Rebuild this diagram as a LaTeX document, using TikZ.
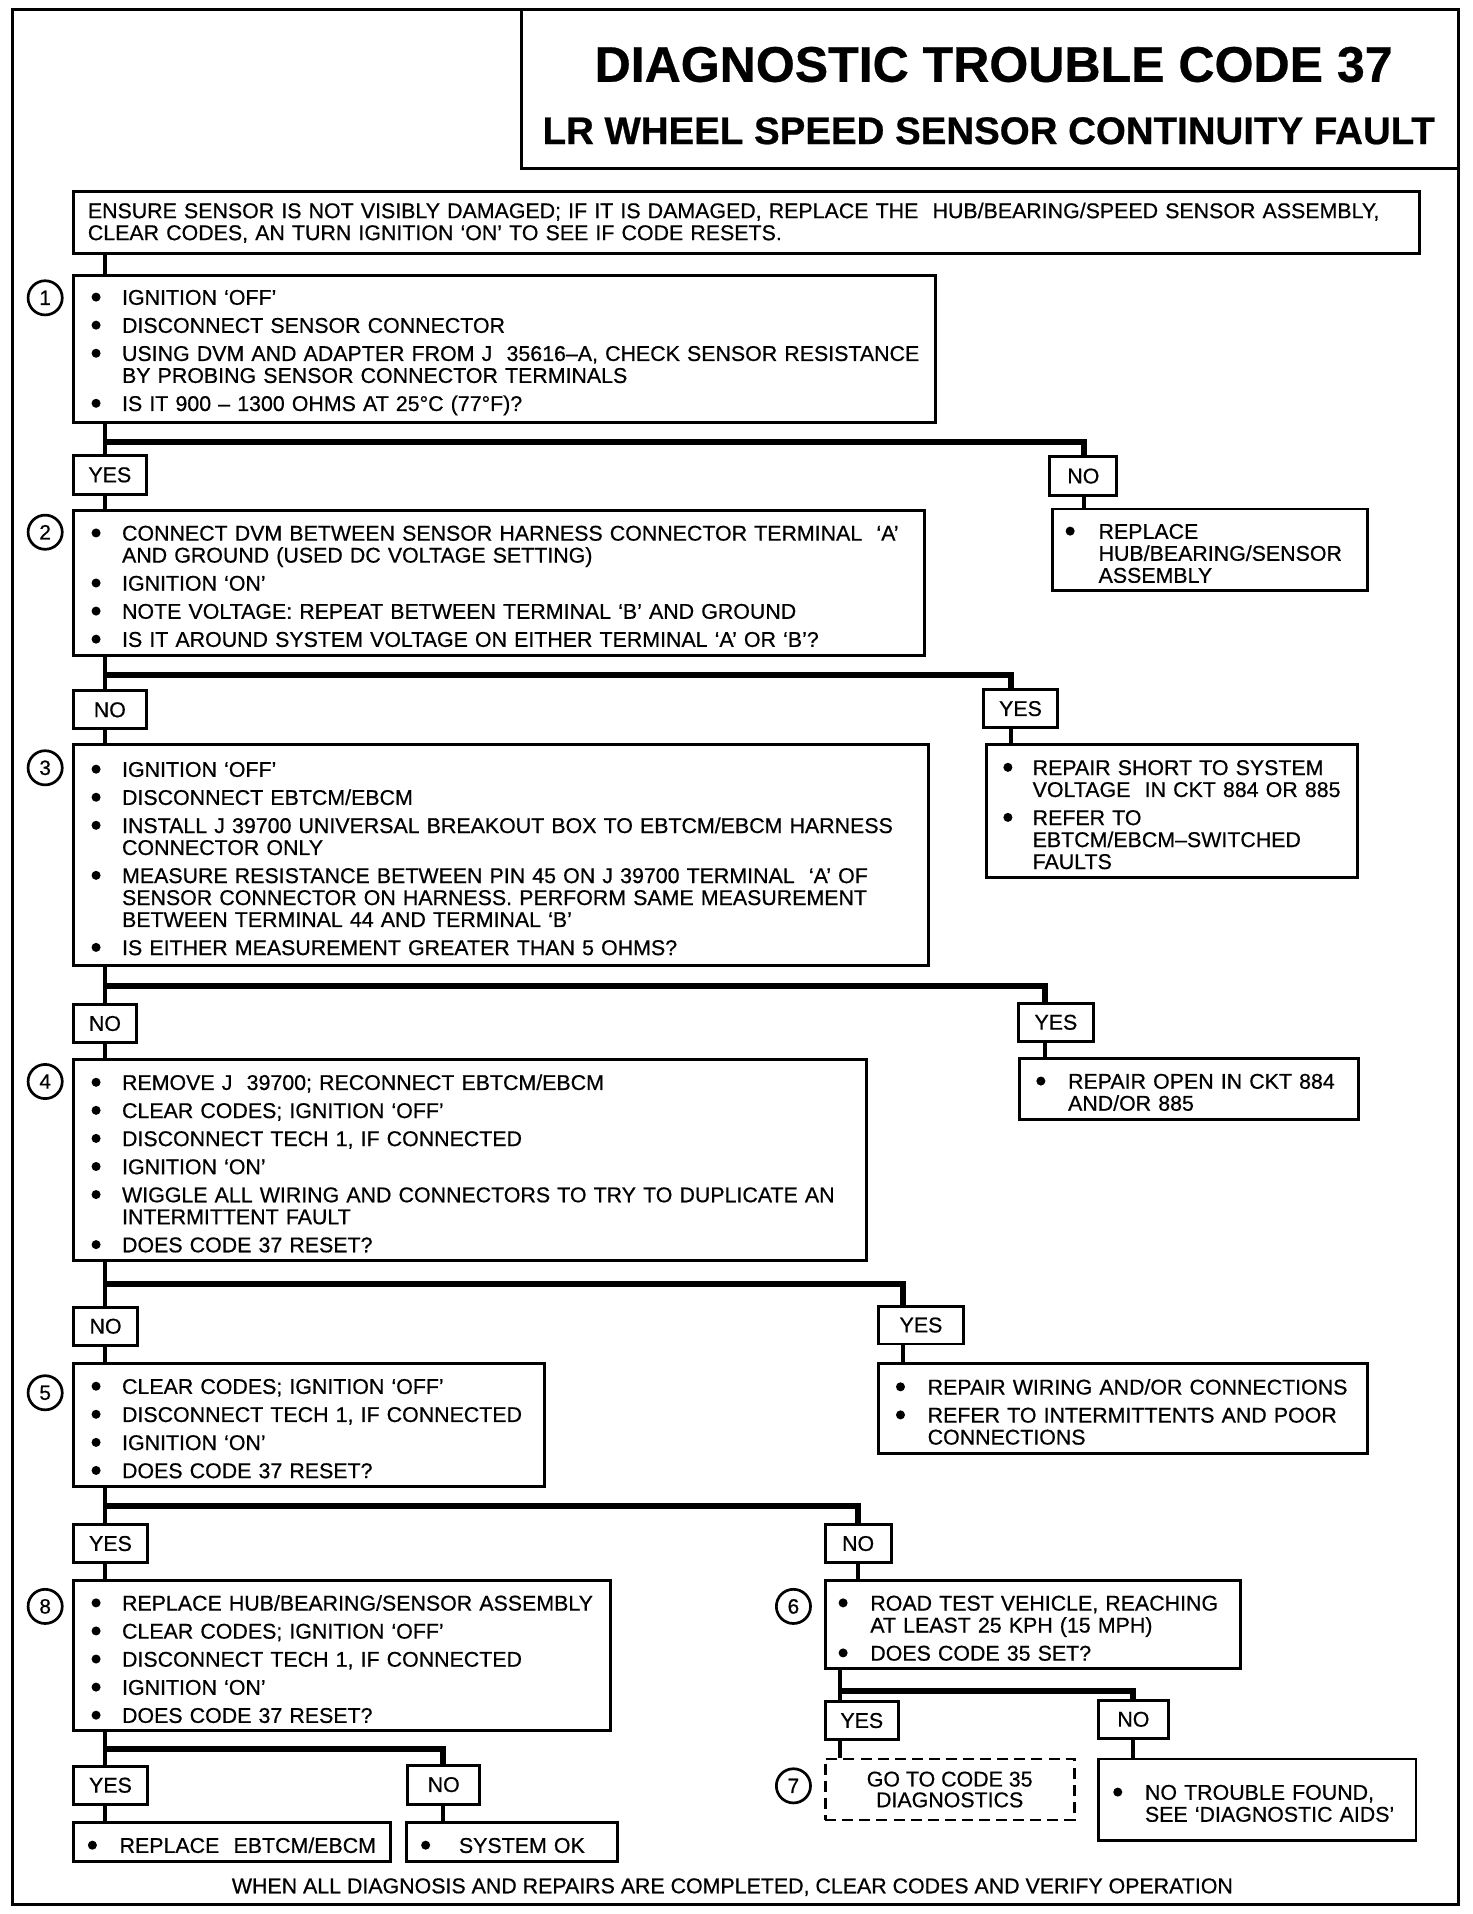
\documentclass[tikz,border=0pt]{standalone}
\usepackage{fontspec}
\setmainfont{Liberation Sans}[FakeBold=0.6]
\usetikzlibrary{calc}
\setlength\parskip{0pt}
\newlength\bind \setlength\bind{25pt}
\newlength\bgap \setlength\bgap{5pt}
\newcommand\bdot{\tikz[baseline=-6.3pt]\fill (0,0) circle (3.7pt);}
\newcommand\bi[1]{\par\noindent\hbox to\bind{\bdot\hfil}\mbox{#1}\par}
\newcommand\bn[1]{\vskip\bgap\bi{#1}}
\newcommand\cl[1]{\par\noindent\hskip\bind\mbox{#1}\par}
\tikzset{
  tb/.style={draw, line width=2.4pt, inner xsep=15pt, inner ysep=0pt, font=\fontsize{17.5}{18}\selectfont},
  lb/.style={draw, line width=2.4pt, inner sep=0pt, font=\fontsize{17.5}{18}\selectfont},
  num/.style={draw, circle, line width=2.2pt, minimum size=28pt, inner sep=0pt, font=\fontsize{17}{17}\selectfont},
  conn/.style={line width=3pt},
  bar/.style={line width=5pt, line join=miter},
}
\begin{document}
\begin{tikzpicture}[x=1pt,y=-1pt]
\useasboundingbox (0,0) rectangle (1206,1568);
\fill[white] (0,0) rectangle (1206,1568);
\draw[line width=2.2pt] (10,8) rectangle (1195,1560);

\node[draw, fill=white, line width=2.5pt, minimum width=768pt, minimum height=130pt, inner sep=0pt] (title) at (811,73) {};
\node[font=\fontsize{41}{41}\selectfont\bfseries, inner sep=0pt, anchor=base] (t1) at (814,67) {DIAGNOSTIC TROUBLE CODE 37};
\node[font=\fontsize{31.5}{32}\selectfont\bfseries, inner sep=0pt, anchor=base] (t2) at (810,118) {LR WHEEL SPEED SENSOR CONTINUITY FAULT};

\node[tb, inner xsep=12pt, minimum width=1103pt, minimum height=51pt, text width=1079pt] (ens) at (611.5,182.5)
 {\fontsize{17.5}{20}\selectfont\noindent\mbox{ENSURE SENSOR IS NOT VISIBLY DAMAGED; IF IT IS DAMAGED, REPLACE THE \ HUB/BEARING/SPEED SENSOR ASSEMBLY,}\par\noindent\mbox{CLEAR CODES, AN TURN IGNITION `ON' TO SEE IF CODE RESETS.}};

% step 1
\node[tb, minimum width=706pt, minimum height=120pt, text width=676pt] (b1) at (413,286)
 {\bi{IGNITION `OFF'}\bn{DISCONNECT SENSOR CONNECTOR}\bn{USING DVM AND ADAPTER FROM J \ 35616--A, CHECK SENSOR RESISTANCE}\cl{BY PROBING SENSOR CONNECTOR TERMINALS}\bn{IS IT 900 -- 1300 OHMS AT 25°C (77°F)?}};
\node[num] (c1) at (37,244) {1};
\node[lb, minimum width=60pt, minimum height=32pt] (y1) at (90,389) {YES};
\node[lb, minimum width=55pt, minimum height=32pt] (n1) at (887.5,390) {NO};
\node[tb, inner xsep=11pt, minimum width=258pt, minimum height=67pt, text width=236pt] (r1) at (991,450.5)
 {\setlength\bind{27pt}\bi{REPLACE}\cl{HUB/BEARING/SENSOR}\cl{ASSEMBLY}};

% step 2
\node[tb, minimum width=697pt, minimum height=119pt, text width=667pt] (b2) at (408.5,477.5)
 {\bi{CONNECT DVM BETWEEN SENSOR HARNESS CONNECTOR TERMINAL \ `A'}\cl{AND GROUND (USED DC VOLTAGE SETTING)}\bn{IGNITION `ON'}\bn{NOTE VOLTAGE: REPEAT BETWEEN TERMINAL `B' AND GROUND}\bn{IS IT AROUND SYSTEM VOLTAGE ON EITHER TERMINAL `A' OR `B'?}};
\node[num] (c2) at (37,436) {2};
\node[lb, minimum width=60pt, minimum height=31pt] (n2) at (90,581.5) {NO};
\node[lb, minimum width=60pt, minimum height=31pt] (y2) at (836,580.5) {YES};
\node[tb, inner xsep=14pt, minimum width=304pt, minimum height=109pt, text width=276pt] (r2) at (960,664.5)
 {\setlength\bind{24pt}\bi{REPAIR SHORT TO SYSTEM}\cl{VOLTAGE \ IN CKT 884 OR 885}\bn{REFER TO}\cl{EBTCM/EBCM--SWITCHED}\cl{FAULTS}};

% step 3
\node[tb, minimum width=701pt, minimum height=181pt, text width=671pt] (b3) at (410.5,700.5)
 {\bi{IGNITION `OFF'}\bn{DISCONNECT EBTCM/EBCM}\bn{INSTALL J 39700 UNIVERSAL BREAKOUT BOX TO EBTCM/EBCM HARNESS}\cl{CONNECTOR ONLY}\bn{MEASURE RESISTANCE BETWEEN PIN 45 ON J 39700 TERMINAL \ `A' OF}\cl{SENSOR CONNECTOR ON HARNESS. PERFORM SAME MEASUREMENT}\cl{BETWEEN TERMINAL 44 AND TERMINAL `B'}\bn{IS EITHER MEASUREMENT GREATER THAN 5 OHMS?}};
\node[num] (c3) at (37,629) {3};
\node[lb, minimum width=52pt, minimum height=31pt] (n3) at (86,838.5) {NO};
\node[lb, minimum width=62pt, minimum height=31pt] (y3) at (865,837.5) {YES};
\node[tb, inner xsep=14pt, minimum width=278pt, minimum height=50pt, text width=250pt] (r3) at (974,892)
 {\setlength\bind{26pt}\bi{REPAIR OPEN IN CKT 884}\cl{AND/OR 885}};

% step 4
\node[tb, minimum width=650pt, minimum height=165pt, text width=620pt] (b4) at (385,950.5)
 {\bi{REMOVE J \ 39700; RECONNECT EBTCM/EBCM}\bn{CLEAR CODES; IGNITION `OFF'}\bn{DISCONNECT TECH 1, IF CONNECTED}\bn{IGNITION `ON'}\bn{WIGGLE ALL WIRING AND CONNECTORS TO TRY TO DUPLICATE AN}\cl{INTERMITTENT FAULT}\bn{DOES CODE 37 RESET?}};
\node[num] (c4) at (37,886) {4};
\node[lb, minimum width=53pt, minimum height=31pt] (n4) at (86.5,1086.5) {NO};
\node[lb, minimum width=69pt, minimum height=31pt] (y4) at (754.5,1085.5) {YES};
\node[tb, inner xsep=14pt, minimum width=400pt, minimum height=74pt, text width=372pt] (r4) at (920,1154)
 {\setlength\bind{26pt}\bi{REPAIR WIRING AND/OR CONNECTIONS}\bn{REFER TO INTERMITTENTS AND POOR}\cl{CONNECTIONS}};

% step 5
\node[tb, minimum width=386pt, minimum height=101pt, text width=356pt] (b5) at (253,1167.5)
 {\bi{CLEAR CODES; IGNITION `OFF'}\bn{DISCONNECT TECH 1, IF CONNECTED}\bn{IGNITION `ON'}\bn{DOES CODE 37 RESET?}};
\node[num] (c5) at (37,1141) {5};
\node[lb, minimum width=61pt, minimum height=31pt] (y5) at (90.5,1264.5) {YES};
\node[lb, minimum width=54pt, minimum height=31pt] (n5) at (703,1264.5) {NO};

% step 8
\node[tb, minimum width=440pt, minimum height=123pt, text width=410pt] (b8) at (280,1356.5)
 {\bi{REPLACE HUB/BEARING/SENSOR ASSEMBLY}\bn{CLEAR CODES; IGNITION `OFF'}\bn{DISCONNECT TECH 1, IF CONNECTED}\bn{IGNITION `ON'}\bn{DOES CODE 37 RESET?}};
\node[num] (c8) at (37,1316) {8};
\node[lb, minimum width=61pt, minimum height=31pt] (y8) at (90.5,1462.5) {YES};
\node[lb, minimum width=59pt, minimum height=32pt] (n8) at (363.5,1462) {NO};
\node[tb, inner xsep=12pt, minimum width=260pt, minimum height=32pt, text width=236pt] (r8y) at (190,1509)
 {\setlength\bind{26pt}\bi{REPLACE \ EBTCM/EBCM}};
\node[tb, inner xsep=12pt, minimum width=173pt, minimum height=32pt, text width=149pt] (r8n) at (419.5,1509)
 {\setlength\bind{31pt}\bi{SYSTEM OK}};

% step 6
\node[tb, inner xsep=11pt, minimum width=340pt, minimum height=72pt, text width=318pt] (b6) at (846,1331)
 {\setlength\bind{26pt}\bi{ROAD TEST VEHICLE, REACHING}\cl{AT LEAST 25 KPH (15 MPH)}\bn{DOES CODE 35 SET?}};
\node[num] (c6) at (650,1316) {6};
\node[lb, minimum width=60pt, minimum height=31pt] (y6) at (706,1409.5) {YES};
\node[lb, minimum width=57pt, minimum height=31pt] (n6) at (928.5,1408.5) {NO};

% step 7
\node[draw, dash pattern=on 9pt off 5pt, line width=2.4pt, minimum width=204pt, minimum height=50pt, inner sep=0pt, align=center, font=\fontsize{17.5}{17}\selectfont] (b7) at (778,1466)
 {GO TO CODE 35\\DIAGNOSTICS};
\node[num] (c7) at (650,1463) {7};
\node[tb, inner xsep=12pt, minimum width=260pt, minimum height=67pt, text width=236pt] (r6) at (1030,1474.5)
 {\setlength\bind{26pt}\bi{NO TROUBLE FOUND,}\cl{SEE `DIAGNOSTIC AIDS'}};

\node[font=\fontsize{17.5}{18}\selectfont, inner sep=0pt] (foot) at (600,1546)
 {WHEN ALL DIAGNOSIS AND REPAIRS ARE COMPLETED, CLEAR CODES AND VERIFY OPERATION};

% junctions
\coordinate (j1) at (86,362);  \coordinate (d1) at (888,362);
\coordinate (j2) at (86,553);  \coordinate (d2) at (828,553);
\coordinate (j3) at (86,808);  \coordinate (d3) at (856,808);
\coordinate (j4) at (86,1052); \coordinate (d4) at (740,1052);
\coordinate (j5) at (86,1234); \coordinate (d5) at (703,1234);
\coordinate (j6) at (688,1385); \coordinate (d6) at (928,1385);
\coordinate (j8) at (86,1433); \coordinate (d8) at (363,1433);

\draw[conn] (ens.south -| j1) -- (b1.north -| j1);

\draw[conn] (b1.south -| j1) -- (y1.north -| j1);
\draw[bar] (j1) -- (d1) -- (d1 |- n1.north);
\draw[conn] (y1.south -| j1) -- (b2.north -| j1);
\draw[conn] (n1.south -| d1) -- (r1.north -| d1);

\draw[conn] (b2.south -| j2) -- (n2.north -| j2);
\draw[bar] (j2) -- (d2) -- (d2 |- y2.north);
\draw[conn] (n2.south -| j2) -- (b3.north -| j2);
\draw[conn] (y2.south -| d2) -- (r2.north -| d2);

\draw[conn] (b3.south -| j3) -- (n3.north -| j3);
\draw[bar] (j3) -- (d3) -- (d3 |- y3.north);
\draw[conn] (n3.south -| j3) -- (b4.north -| j3);
\draw[conn] (y3.south -| d3) -- (r3.north -| d3);

\draw[conn] (b4.south -| j4) -- (n4.north -| j4);
\draw[bar] (j4) -- (d4) -- (d4 |- y4.north);
\draw[conn] (n4.south -| j4) -- (b5.north -| j4);
\draw[conn] (y4.south -| d4) -- (r4.north -| d4);

\draw[conn] (b5.south -| j5) -- (y5.north -| j5);
\draw[bar] (j5) -- (d5) -- (d5 |- n5.north);
\draw[conn] (y5.south -| j5) -- (b8.north -| j5);
\draw[conn] (n5.south -| d5) -- (b6.north -| d5);

\draw[conn] (b6.south -| j6) -- (y6.north -| j6);
\draw[bar] (j6) -- (d6) -- (d6 |- n6.north);
\draw[conn] (y6.south -| j6) -- (b7.north -| j6);
\draw[conn] (n6.south -| d6) -- (r6.north -| d6);

\draw[conn] (b8.south -| j8) -- (y8.north -| j8);
\draw[bar] (j8) -- (d8) -- (d8 |- n8.north);
\draw[conn] (y8.south -| j8) -- (r8y.north -| j8);
\draw[conn] (n8.south -| d8) -- (r8n.north -| d8);
\end{tikzpicture}
\end{document}
